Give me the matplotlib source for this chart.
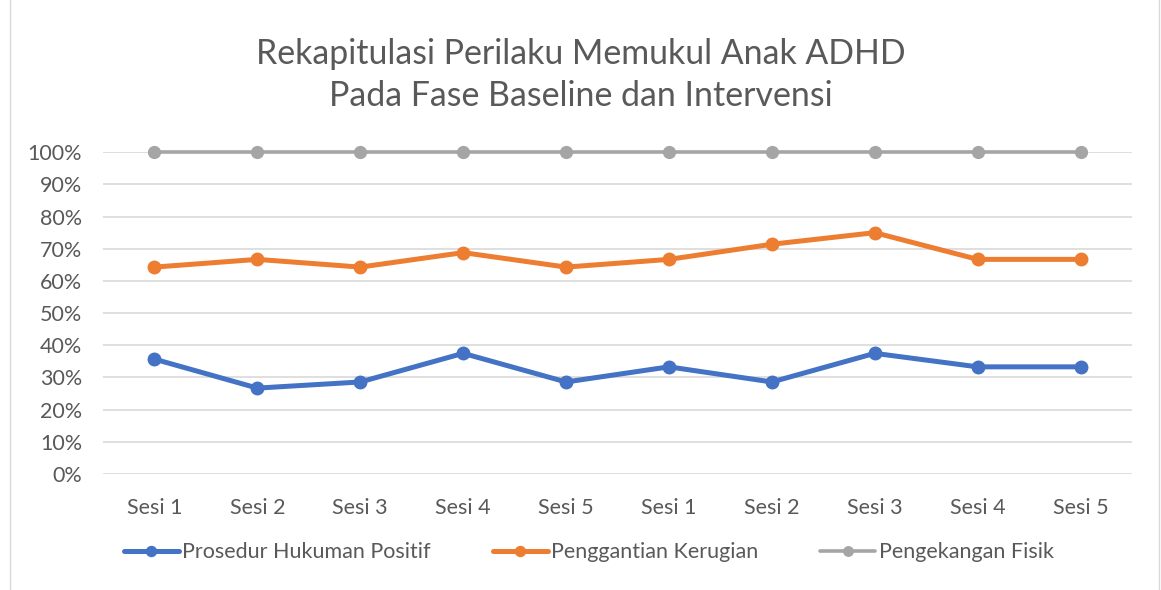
import matplotlib
matplotlib.use('Agg')
import matplotlib.pyplot as plt
from matplotlib.lines import Line2D

plt.rcParams['font.family'] = ['Lato', 'DejaVu Sans']

# data
sesi = ['Sesi 1', 'Sesi 2', 'Sesi 3', 'Sesi 4', 'Sesi 5',
        'Sesi 1', 'Sesi 2', 'Sesi 3', 'Sesi 4', 'Sesi 5']
hukuman_positif = [35.7, 26.7, 28.6, 37.5, 28.6, 33.3, 28.6, 37.5, 33.3, 33.3]
ganti_rugi = [64.3, 66.7, 64.3, 68.8, 64.3, 66.7, 71.4, 75.0, 66.7, 66.7]
kekangan_fisik = [100, 100, 100, 100, 100, 100, 100, 100, 100, 100]

text_col = '#595959'
fig = plt.figure(figsize=(11.61, 5.9), dpi=100)
ax = fig.add_axes([0.0887, 0.1966, 0.8863, 0.5454])

x = range(len(sesi))
ax.plot(x, hukuman_positif, color='#4472C4', lw=3.6, marker='o', ms=9,
        label='Prosedur Hukuman Positif', solid_capstyle='round', zorder=3, clip_on=False)
ax.plot(x, ganti_rugi, color='#ED7D31', lw=3.6, marker='o', ms=9,
        label='Penggantian Kerugian', solid_capstyle='round', zorder=3, clip_on=False)
ax.plot(x, kekangan_fisik, color='#A5A5A5', lw=2.6, marker='o', ms=8.5,
        label='Pengekangan Fisik', solid_capstyle='round', zorder=3, clip_on=False)

ax.set_xlim(-0.5, len(sesi) - 0.5)
ax.set_ylim(0, 100)
ax.set_yticks(range(0, 101, 10))
ax.set_yticklabels([f'{v}%' for v in range(0, 101, 10)])
ax.set_xticks(list(x))
ax.set_xticklabels(sesi)
ax.tick_params(length=0, labelsize=15.5, colors=text_col, pad=15)
ax.tick_params(axis='x', labelsize=15.5, pad=17)
ax.grid(axis='y', color='#D9D9D9', lw=1.2)
ax.set_axisbelow(True)
for s in ax.spines.values():
    s.set_visible(False)

fig.text(0.5, 0.873, 'Rekapitulasi Perilaku Memukul Anak ADHD\nPada Fase Baseline dan Intervensi',
         ha='center', va='center', fontsize=24.4, color=text_col, linespacing=1.4)

fig.legend(loc='center', bbox_to_anchor=(0.507, 0.064), ncol=3, frameon=False,
           fontsize=15.5, labelcolor=text_col, columnspacing=2.9, handlelength=2.55,
           handletextpad=0.15, markerscale=0.8)

# chart frame
fig.add_artist(Line2D([0.009, 0.009], [0, 1], color='#D9D9D9', lw=1))
fig.add_artist(Line2D([0.998, 0.998], [0, 1], color='#D9D9D9', lw=1))

fig.savefig('out.png', dpi=100)
